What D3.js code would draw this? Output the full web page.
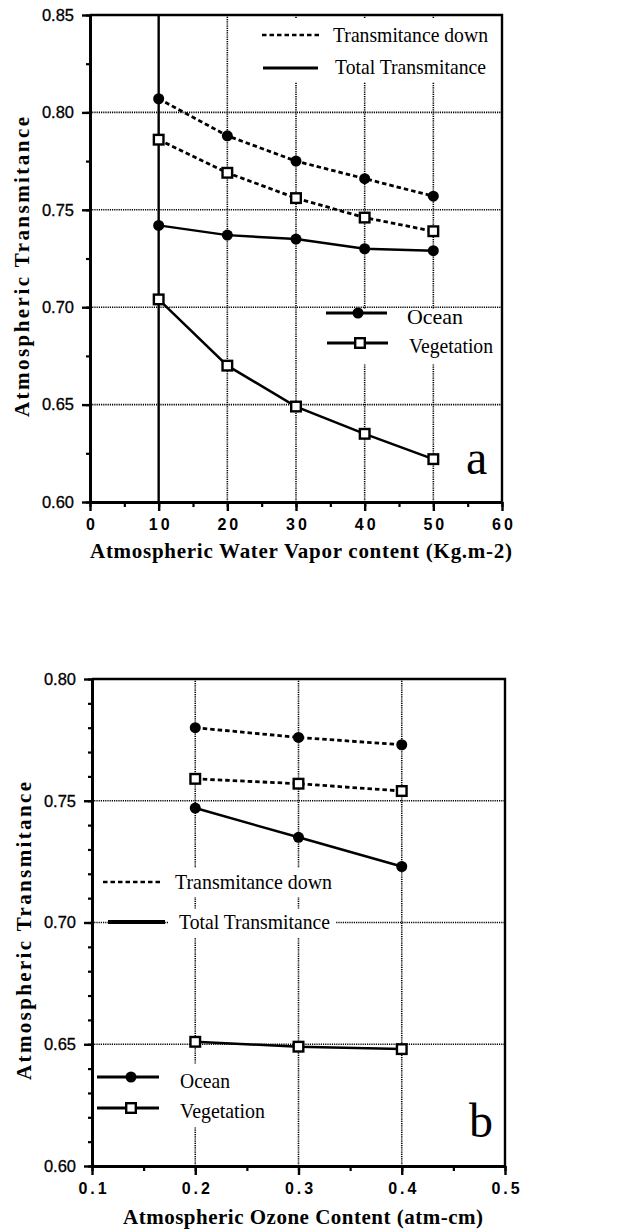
<!DOCTYPE html>
<html>
<head>
<meta charset="utf-8">
<script src="https://cdn.jsdelivr.net/npm/d3@7"></script>
<style>
  body { margin: 0; background: #fff; }
  svg { display: block; }
</style>
</head>
<body>
<svg id="chart"></svg>
<script>
// panel a : water vapour
const vaporX = [10, 20, 30, 40, 50];
const oceanDownA = [0.807, 0.788, 0.775, 0.766, 0.757];
const vegDownA = [0.786, 0.769, 0.756, 0.746, 0.739];
const oceanTotalA = [0.742, 0.737, 0.735, 0.730, 0.729];
const vegTotalA = [0.704, 0.670, 0.649, 0.635, 0.622];
const xTicksA = [0, 10, 20, 30, 40, 50, 60];
const yTicksA = [0.60, 0.65, 0.70, 0.75, 0.80, 0.85];

// panel b : ozone
const ozoneX = [0.2, 0.3, 0.4];
const oceanDownB = [0.780, 0.776, 0.773];
const vegDownB = [0.759, 0.757, 0.754];
const oceanTotalB = [0.747, 0.735, 0.723];
const vegTotalB = [0.651, 0.649, 0.648];
const xTicksB = [0.1, 0.2, 0.3, 0.4, 0.5];
const yTicksB = [0.60, 0.65, 0.70, 0.75, 0.80];

const legendLines = ["Transmitance down", "Total Transmitance"];
const legendSurfaces = ["Ocean", "Vegetation"];

const serif = "'Liberation Serif', 'Times New Roman', serif";
const sans = "'Liberation Sans', Arial, sans-serif";

const svg = d3.select("#chart").attr("width", 630).attr("height", 1232);

function drawPanel(p) {
    const x = d3.scaleLinear().domain(d3.extent(p.xTicks)).range(p.xRange);
    const y = d3.scaleLinear().domain(d3.extent(p.yTicks)).range(p.yRange);
    const g = svg.append("g");

    // dotted grid
    const grid = g.append("g");
    grid.selectAll(".gx")
        .data(p.xTicks.slice(1, -1))
        .join("line")
        .attr("x1", d => x(d)).attr("x2", d => x(d))
        .attr("y1", p.yRange[0]).attr("y2", p.yRange[1])
        .attr("stroke", "#000")
        .attr("stroke-width", d => d === p.solidGridX ? 2.4 : 1.6)
        .attr("stroke-dasharray", d => d === p.solidGridX ? null : "1.2,1");
    grid.selectAll(".gy")
        .data(p.yTicks.slice(1, -1))
        .join("line")
        .attr("x1", p.xRange[0]).attr("x2", p.xRange[1])
        .attr("y1", d => y(d)).attr("y2", d => y(d))
        .attr("stroke", "#000")
        .attr("stroke-width", 1.6)
        .attr("stroke-dasharray", "1.2,1");

    // white boxes of the legends hide the grid
    g.selectAll(".box")
        .data(p.boxes)
        .join("rect")
        .attr("x", d => d[0]).attr("y", d => d[1])
        .attr("width", d => d[2] - d[0]).attr("height", d => d[3] - d[1])
        .attr("fill", "#fff");

    // series
    const series = [
        {v: p.oceanDown, dash: true, mark: "circle"},
        {v: p.vegDown, dash: true, mark: "square"},
        {v: p.oceanTotal, dash: false, mark: "circle"},
        {v: p.vegTotal, dash: false, mark: "square"}
    ];
    const line = d3.line().x(d => x(d[0])).y(d => y(d[1]));
    series.forEach(s => {
        const pts = p.xs.map((d, i) => [d, s.v[i]]);
        g.append("path")
            .attr("d", line(pts))
            .attr("fill", "none")
            .attr("stroke", "#000")
            .attr("stroke-width", s.dash ? 2.8 : 2.5)
            .attr("stroke-dasharray", s.dash ? "4.5,3" : null);
        drawMarks(g, pts.map(d => [x(d[0]), y(d[1])]), s.mark);
    });

    // frame
    g.append("path")
        .attr("d", `M${p.xRange[0]},${p.yRange[1]}H${p.xRange[1]}V${p.yRange[0]}`)
        .attr("fill", "none").attr("stroke", "#000").attr("stroke-width", 2.4);

    // axes
    const minorY = d3.range(p.yTicks[0], p.yTicks[p.yTicks.length - 1] + 1e-9, p.yMinor);
    const minorX = d3.range(p.xTicks[0], p.xTicks[p.xTicks.length - 1] + 1e-9, p.xMinor);

    g.append("g")
        .attr("transform", `translate(${p.xRange[0]},0)`)
        .call(d3.axisLeft(y).tickValues(minorY).tickSize(4).tickFormat(""))
        .call(a => a.select(".domain").remove())
        .selectAll("line").attr("stroke-width", 2.2);
    const ya = g.append("g")
        .attr("transform", `translate(${p.xRange[0]},0)`)
        .call(d3.axisLeft(y).tickValues(p.yTicks).tickSize(8).tickPadding(8)
            .tickFormat(d3.format(".2f")).tickSizeOuter(0));
    ya.select(".domain").attr("stroke-width", 3);
    ya.selectAll("line").attr("stroke-width", 2.4);
    ya.selectAll("text").attr("font-family", sans).attr("font-size", 16.5)
        .attr("fill", "#000").attr("stroke", "#000").attr("stroke-width", 0.3);

    g.append("g")
        .attr("transform", `translate(0,${p.yRange[0]})`)
        .call(d3.axisBottom(x).tickValues(minorX).tickSize(5).tickFormat(""))
        .call(a => a.select(".domain").remove())
        .selectAll("line").attr("stroke-width", 2.2);
    const xa = g.append("g")
        .attr("transform", `translate(0,${p.yRange[0]})`)
        .call(d3.axisBottom(x).tickValues(p.xTicks).tickSize(9).tickPadding(8)
            .tickFormat(p.xFormat).tickSizeOuter(0));
    xa.select(".domain").attr("stroke-width", 3);
    xa.selectAll("line").attr("stroke-width", 2.4);
    xa.selectAll("text").attr("font-family", sans).attr("font-size", 16)
        .attr("font-weight", "bold").attr("letter-spacing", "3px").attr("dx", "1.5px")
        .attr("fill", "#000");

    // axis titles
    g.append("text")
        .attr("x", p.xTitle[0]).attr("y", p.xTitle[1])
        .attr("text-anchor", "middle")
        .attr("font-family", serif).attr("font-weight", "bold").attr("font-size", 21)
        .attr("textLength", p.xTitle[2]).attr("lengthAdjust", "spacing")
        .text(p.xLabel);
    g.append("text")
        .attr("transform", `translate(${p.yTitle[0]},${p.yTitle[1]}) rotate(-90)`)
        .attr("text-anchor", "middle")
        .attr("font-family", serif).attr("font-weight", "bold").attr("font-size", 21)
        .attr("textLength", p.yTitle[2]).attr("lengthAdjust", "spacing")
        .text("Atmospheric Transmitance");

    // legends
    legendLines.forEach((name, i) => {
        const L = p.lineLegend[i];
        g.append("line")
            .attr("x1", L.x1).attr("x2", L.x2).attr("y1", L.y).attr("y2", L.y)
            .attr("stroke", "#000")
            .attr("stroke-width", i === 0 ? 2.6 : p.totalSampleWidth)
            .attr("stroke-dasharray", i === 0 ? "4.5,3" : null);
        g.append("text")
            .attr("x", L.tx).attr("y", L.ty)
            .attr("font-family", serif).attr("font-size", 21)
            .attr("textLength", L.len).attr("lengthAdjust", "spacingAndGlyphs")
            .text(name);
    });
    legendSurfaces.forEach((name, i) => {
        const L = p.markLegend[i];
        g.append("line")
            .attr("x1", L.x1).attr("x2", L.x2).attr("y1", L.y).attr("y2", L.y)
            .attr("stroke", "#000").attr("stroke-width", 2.8);
        drawMarks(g, [[L.mx, L.y]], i === 0 ? "circle" : "square");
        g.append("text")
            .attr("x", L.tx).attr("y", L.ty)
            .attr("font-family", serif).attr("font-size", 21)
            .attr("textLength", L.len).attr("lengthAdjust", "spacingAndGlyphs")
            .text(name);
    });

    g.append("text")
        .attr("x", p.tag[0]).attr("y", p.tag[1])
        .attr("font-family", serif).attr("font-size", 48)
        .text(p.tagText);
}

function drawMarks(g, pts, kind) {
    if (kind === "circle") {
        g.selectAll(null).data(pts).join("circle")
            .attr("cx", d => d[0]).attr("cy", d => d[1]).attr("r", 5.5)
            .attr("fill", "#000");
    } else {
        g.selectAll(null).data(pts).join("rect")
            .attr("x", d => d[0] - 4.8).attr("y", d => d[1] - 4.8)
            .attr("width", 9.6).attr("height", 9.6)
            .attr("fill", "#fff").attr("stroke", "#000").attr("stroke-width", 2.4);
    }
}

drawPanel({
    xs: vaporX, oceanDown: oceanDownA, vegDown: vegDownA,
    oceanTotal: oceanTotalA, vegTotal: vegTotalA,
    xTicks: xTicksA, yTicks: yTicksA, xMinor: 5, yMinor: 0.025,
    xRange: [90, 502], yRange: [502, 15],
    xFormat: d3.format("d"), solidGridX: 10, totalSampleWidth: 2.8,
    xLabel: "Atmospheric Water Vapor content (Kg.m-2)",
    xTitle: [301, 558, 422], yTitle: [29, 267, 300],
    boxes: [[256, 19, 498, 82], [322, 309, 498, 364]],
    lineLegend: [
        {x1: 262, x2: 320, y: 35, tx: 333, ty: 42, len: 155},
        {x1: 263, x2: 318, y: 68, tx: 335, ty: 74, len: 151}
    ],
    markLegend: [
        {x1: 326, x2: 387, y: 313, mx: 358, tx: 407, ty: 324, len: 56},
        {x1: 327, x2: 388, y: 343, mx: 360, tx: 409, ty: 353, len: 84}
    ],
    tag: [466, 474], tagText: "a"
});

drawPanel({
    xs: ozoneX, oceanDown: oceanDownB, vegDown: vegDownB,
    oceanTotal: oceanTotalB, vegTotal: vegTotalB,
    xTicks: xTicksB, yTicks: yTicksB, xMinor: 0.05, yMinor: 0.01,
    xRange: [92, 505], yRange: [1166, 679],
    xFormat: d3.format(".1f"), solidGridX: null, totalSampleWidth: 4,
    xLabel: "Atmospheric Ozone Content (atm-cm)",
    xTitle: [303, 1224, 360], yTitle: [31, 931, 298],
    boxes: [[171, 868, 336, 897], [168, 909, 336, 938], [175, 1064, 270, 1127]],
    lineLegend: [
        {x1: 103, x2: 162, y: 882, tx: 175, ty: 889, len: 157},
        {x1: 108, x2: 165, y: 922, tx: 179, ty: 929, len: 151}
    ],
    markLegend: [
        {x1: 97, x2: 159, y: 1077, mx: 131, tx: 180, ty: 1088, len: 50},
        {x1: 97, x2: 159, y: 1108, mx: 131, tx: 180, ty: 1118, len: 85}
    ],
    tag: [469, 1137], tagText: "b"
});
</script>
</body>
</html>
